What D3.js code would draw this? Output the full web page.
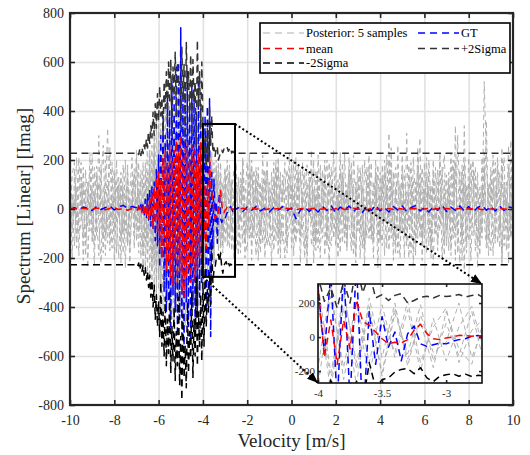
<!DOCTYPE html>
<html><head><meta charset="utf-8">
<script src="https://cdn.jsdelivr.net/npm/d3@7"></script>
<style>
body{margin:0;background:#fff}
svg{display:block}
svg text{font-family:'Liberation Serif','Tinos','Times New Roman','DejaVu Serif',serif !important}
</style>
</head><body>
<svg id="c" width="530" height="455"></svg>
<script>
// ---------------- DATA ----------------
const xTicks = [-10,-8,-6,-4,-2,0,2,4,6,8,10];
const yTicks = [-800,-600,-400,-200,0,200,400,600,800];
const xDomain = [-10,10];
const yDomain = [-800,800];
const insetXTicks = [-4,-3.5,-3];
const insetYTicks = [-200,0,200];
const insetXDomain = [-4,-2.72];
const insetYDomain = [-270,312];
const zoomBoxX = [-4,-2.55];
const zoomBoxY = [-277,347];
const legendLabels = ["Posterior: 5 samples","mean","-2Sigma","GT","+2Sigma"];
const xLabel = "Velocity [m/s]";
const yLabel = "Spectrum [Linear] [Imag]";

// velocity grid of the posterior samples (step 0.1)
const sampleX = d3.range(201).map(i => -10 + i*0.1);
const sample1 = [120,-85,40,-160,210,-30,95,-190,60,150,
 -110,20,175,-60,-220,90,30,-140,250,-45,
 70,-180,130,10,-95,200,-150,45,-20,165,
 -130,85,-60,190,-240,150,-90,260,-310,180,
 -280,350,-200,420,-380,300,-450,390,-260,480,
 -420,310,-350,440,-300,260,-390,330,-210,370,
 -290,240,-180,210,-150,190,-120,160,-200,110,
 -140,60,180,-90,25,-170,130,-50,200,-120,
 40,150,-210,90,-30,170,-100,220,-60,-150,
 110,-20,190,-130,60,-200,140,10,-90,230,
 -160,80,-40,180,-110,30,150,-230,70,-10,
 200,-140,90,-70,160,-190,20,120,-50,240,
 -100,50,-180,140,0,-130,210,-80,100,-220,
 60,170,-40,-150,120,-20,190,-110,80,-240,
 150,-60,30,220,-170,90,-10,-130,260,-90,
 40,-200,310,-70,130,-160,20,180,-120,70,
 -30,210,-150,100,-230,50,160,-80,10,-190,
 140,-40,230,-120,340,-180,60,-90,190,-20,
 110,-210,80,170,-140,30,-100,520,200,-60,
 -170,120,-30,180,-90,250,-150,40,-220,130,60];
const sample2 = [-60,140,190,-120,-30,80,-210,160,20,-90,
 230,-150,-40,110,60,-180,200,-70,-120,90,
 160,-30,-200,120,40,-90,180,-160,70,-40,
 210,-100,30,-170,140,-260,230,-180,320,-350,
 280,-420,360,-300,460,-340,250,-480,400,-320,
 450,-380,280,-460,350,-250,420,-300,290,-340,
 230,-260,280,-190,150,-210,170,-130,90,-180,
 150,-70,-160,120,40,190,-110,-30,140,-200,
 80,-120,170,20,-190,130,60,-140,-20,200,
 -80,150,-170,30,210,-60,-130,90,160,-40,
 100,-190,50,140,-220,70,-30,180,120,-150,
 -60,160,30,-200,110,50,-140,190,-90,20,
 170,-110,60,-30,230,-170,90,140,-60,-190,
 120,-10,-160,200,50,-120,30,-200,150,90,
 -140,180,-50,100,-20,160,-210,60,130,-100,
 220,-40,-150,80,190,-230,110,-60,20,170,
 -120,60,140,-200,90,10,-170,230,-40,120,
 -150,80,-60,170,-210,300,40,-130,100,-180,
 60,190,-110,-30,150,-190,90,20,360,-130,
 170,-60,-140,210,40,-200,110,-30,260,-120,-50];
const sample3 = [200,30,-150,90,-190,130,-20,80,-240,60,
 -40,170,-110,300,-80,40,-190,120,10,-160,
 140,-60,90,-220,180,20,-130,70,210,-100,
 50,-180,160,60,-140,310,-280,180,-220,390,
 -330,260,-440,300,-260,420,-360,300,-420,360,
 -300,420,-480,330,-250,380,-310,200,-400,260,
 -180,300,-250,140,-220,120,-90,210,-150,60,
 170,-150,40,110,-200,90,-60,150,30,-130,
 -170,60,200,-90,130,-50,-180,100,160,-30,
 50,-230,120,-10,180,-140,70,20,-180,140,
 60,-100,210,-60,-130,190,30,-170,90,160,
 -220,40,120,-80,-20,200,-150,60,170,-120,
 30,-200,150,80,-140,100,-40,-170,220,40,
 -90,140,10,-230,170,70,-130,110,-30,180,
 -60,-150,200,40,310,-120,150,-180,20,100,
 -90,160,-30,-200,60,120,-140,250,-60,-110,
 190,-20,80,-160,140,-100,40,200,-210,70,
 -40,150,-190,60,120,-60,-220,180,30,-140,
 210,-80,40,130,-240,90,-30,170,-120,60,
 140,-190,80,30,-160,200,-70,110,-130,280,-90];
const sample4 = [-170,60,-20,210,-100,-60,170,-140,110,-10,
 90,-230,140,-20,180,-120,70,330,-170,50,
 -90,200,-40,150,-180,60,110,-220,30,140,
 -70,190,-200,110,40,-180,240,-330,270,-240,
 370,-300,250,-400,330,-480,410,-350,320,-440,
 380,-270,460,-350,410,-330,260,-380,350,-250,
 310,-210,170,-280,230,-120,200,-170,130,-90,
 -30,200,-120,70,160,-60,-190,100,-140,50,
 190,-20,-140,160,60,-210,110,-40,130,-90,
 -150,70,20,200,-120,150,-60,-200,100,40,
 180,-40,-140,90,160,-90,-200,50,130,-60,
 80,-170,220,10,-120,140,60,-230,90,-10,
 -150,120,-60,190,-100,30,160,-20,-190,110,
 -30,-100,180,-170,60,220,-90,40,140,-130,
 10,130,-190,70,-60,250,-130,90,-180,30,
 160,-110,70,-40,-180,210,40,-120,150,-210,
 50,130,-60,-140,200,-80,110,-20,170,-130,
 30,-170,110,200,-90,10,160,-210,340,-60,
 -130,40,160,-70,90,-150,210,-40,-160,100,
 -20,220,-120,70,150,-230,60,-80,170,-40,200];
const sample5 = [80,-200,150,-40,60,190,-120,30,-70,230,
 -140,70,-30,-190,120,260,-110,40,-60,190,
 -210,110,20,-130,90,-240,150,-50,120,-160,
 240,-30,120,-250,190,-120,160,-250,210,-300,
 320,-250,410,-340,280,-390,470,-280,380,-360,
 300,-450,350,-280,470,-400,310,-270,240,-330,
 200,-320,260,-150,180,-230,140,-100,190,-140,
 80,-110,150,-170,60,130,-40,-180,210,10,
 -100,230,-60,-120,170,40,-150,100,-200,150,
 20,-110,-60,170,-190,100,40,190,-150,-70,
 -40,200,-120,-80,150,20,-160,110,-30,240,
 -130,60,-160,180,-40,90,200,-110,-150,60,
 100,-50,230,-140,60,-160,40,190,-120,20,
 180,-200,90,30,-120,160,-80,-140,200,-40,
 -120,60,150,-160,200,-30,80,170,-60,-200,
 110,30,-130,180,-70,60,-190,120,290,-150,
 80,-180,200,30,-50,170,-130,-60,130,220,
 -90,110,-150,-40,190,-110,70,150,-250,100,
 -40,130,200,-170,20,60,-120,230,-70,-190,
 90,40,190,-140,-50,110,210,-170,30,-100,160];
const samples = [sample1,sample2,sample3,sample4,sample5];

// velocity grid of GT / mean: coarse outside, fine (0.05) in the signal region
const gridLeft = d3.range(15).map(i => -10 + 0.2*i);
const gridCenter = d3.range(91).map(j => -7 + 0.05*j);
const gridRight = d3.range(63).map(k => -2.4 + 0.2*k);
const gridX = [...gridLeft, ...gridCenter, ...gridRight];

const gtLeft = [0,5,-3,8,2,-6,10,-2,6,12,-4,8,15,3,10];
const gtCenter = [5,-8,12,-5,18,-15,25,-30,40,-35,
 60,-45,80,-70,90,-80,110,-130,160,-150,
 220,-240,300,-200,380,-340,300,-420,450,-380,
 400,-480,520,-350,460,-420,580,-500,600,-450,
 740,-520,480,-560,520,-380,560,-480,420,-540,
 500,-400,460,-520,380,-440,520,-360,420,-300,
 300,-100,380,-400,420,-380,450,-520,150,-160,
 120,-60,30,-140,20,65,-40,-55,-45,-35,
 -40,-25,-15,-10,5,10,0,-10,5,-5,
 0];
const gtRight = [5,-10,8,-5,10,-8,3,-12,6,-4,
 10,-6,4,-40,-5,8,-10,5,-12,10,
 -6,12,-15,8,-5,12,-10,6,-14,10,
 -6,15,-8,5,-12,10,-4,12,-10,6,
 14,-8,5,-12,10,-5,15,-10,8,-6,
 12,-8,10,-12,6,14,-5,10,-8,12,
 -6,8,5];
const gt = [...gtLeft, ...gtCenter, ...gtRight];

const meanLeft = [0,2,-1,3,0,-2,4,1,-3,2,5,-2,3,-5,2];
const meanCenter = [0,-5,8,-10,5,-15,10,-25,20,-30,
 15,-40,50,-30,70,-80,90,-60,130,-100,
 150,-170,120,-200,210,-150,240,-250,180,-220,
 260,-280,200,-310,240,-200,280,-300,230,-260,
 300,-340,210,-360,250,-280,270,-240,200,-300,
 260,-220,240,-290,180,-250,230,-200,270,-150,
 290,-120,100,-160,100,-70,220,90,70,30,
 -10,-40,-30,-35,-15,40,75,20,-10,-15,
 -5,0,10,8,5,8,2,-3,0,2,
 0];
const meanRight = [0,3,-2,4,-1,2,-3,1,0,2,
 -2,3,0,-4,1,2,-1,3,-2,0,
 2,-3,1,4,-2,0,3,-1,2,-3,
 1,0,-2,3,1,-1,2,0,-3,1,
 2,-2,0,3,-1,1,-2,2,0,-1,
 3,-2,1,0,2,-3,1,0,-1,2,
 0,-2,1];
const mean = [...meanLeft, ...meanCenter, ...meanRight];

// +/- 2 sigma: flat outside, jagged in the signal region
const sigmaX = [-10, ...gridCenter, 10];
const sigmaUp = [228,
 228,232,222,245,218,250,226,262,240,285,
 250,310,268,340,290,395,300,430,330,470,
 360,500,380,455,300,520,410,560,350,600,
 430,610,300,580,460,640,380,600,500,520,
 340,660,450,590,270,680,480,560,390,630,
 300,610,440,520,250,690,420,560,330,600,
 360,210,290,170,330,200,420,260,380,230,
 250,215,245,255,200,215,235,240,230,245,
 238,242,250,236,244,250,228,236,230,228,
 228,
 228];
const sigmaLo = [-228,
 -228,-235,-220,-248,-225,-255,-230,-270,-240,-290,
 -255,-320,-270,-360,-290,-400,-310,-450,-350,-480,
 -380,-520,-300,-560,-420,-600,-360,-640,-450,-590,
 -330,-670,-480,-620,-400,-700,-500,-640,-360,-720,
 -520,-780,-430,-690,-560,-730,-380,-670,-500,-610,
 -340,-690,-450,-600,-280,-640,-420,-560,-350,-620,
 -300,-560,-240,-480,-330,-420,-260,-390,-150,-300,
 -250,-240,-205,-190,-185,-215,-180,-240,-262,-230,
 -222,-215,-230,-218,-232,-225,-228,-230,-226,-228,
 -228,
 -228];

// ---------------- DRAW ----------------
const FONT = "'Liberation Serif','Tinos','Times New Roman','DejaVu Serif',serif";
const svg = d3.select('#c');
const L = 70, R = 513, T = 13, B = 405;
const x = d3.scaleLinear().domain(xDomain).range([L, R]);
const y = d3.scaleLinear().domain(yDomain).range([B, T]);

const INK = '#262626';
const styles = {
  sample: {color:'#b0b0b0', w:1, dash:'5,3.5'},
  gt:     {color:'#0000ff', w:1.5, dash:'7,4.5'},
  mean:   {color:'#ff0000', w:1.5, dash:'7,4.5'},
  up:     {color:'#333333', w:1.5, dash:'7,4.5'},
  lo:     {color:'#000000', w:1.5, dash:'7,4.5'}
};

const defs = svg.append('defs');
defs.append('clipPath').attr('id','clipMain').append('rect')
  .attr('x',L).attr('y',T).attr('width',R-L).attr('height',B-T);
defs.append('marker').attr('id','arrow').attr('viewBox','0 0 10 8')
  .attr('refX',10).attr('refY',4).attr('markerWidth',11).attr('markerHeight',9)
  .attr('markerUnits','userSpaceOnUse').attr('orient','auto')
  .append('path').attr('d','M0,0 L10,4 L0,8 Z').attr('fill','#000');

// grid
const grid = svg.append('g');
grid.append('g').attr('transform',`translate(0,${B})`)
  .call(d3.axisBottom(x).tickValues(xTicks.slice(1,-1)).tickSize(-(B-T)).tickFormat(''))
  .call(g => g.select('.domain').remove())
  .call(g => g.selectAll('line').attr('stroke','#e1e1e1').attr('stroke-width',1.6));
grid.append('g').attr('transform',`translate(${L},0)`)
  .call(d3.axisLeft(y).tickValues(yTicks.slice(1,-1)).tickSize(-(R-L)).tickFormat(''))
  .call(g => g.select('.domain').remove())
  .call(g => g.selectAll('line').attr('stroke','#e1e1e1').attr('stroke-width',1.6));

function drawAll(g, xs, ys) {
  const line = d3.line().x(d => xs(d[0])).y(d => ys(d[1]));
  const add = (X, Y, st) => {
    const pts = X.map((v,i) => [v, Y[i]]).filter(p => p[1] !== undefined);
    g.append('path').attr('d', line(pts)).attr('fill','none')
      .attr('stroke', st.color).attr('stroke-width', st.w)
      .attr('stroke-dasharray', st.dash).attr('stroke-linejoin','round');
  };
  samples.forEach(s => add(sampleX, s, styles.sample));
  add(gridX, gt, styles.gt);
  add(gridX, mean, styles.mean);
  add(sigmaX, sigmaLo, styles.lo);
  add(sigmaX, sigmaUp, styles.up);
}

const main = svg.append('g').attr('clip-path','url(#clipMain)');
drawAll(main, x, y);

// zoom rectangle
svg.append('rect')
  .attr('x', x(zoomBoxX[0])).attr('y', y(zoomBoxY[1]))
  .attr('width', x(zoomBoxX[1]) - x(zoomBoxX[0]))
  .attr('height', y(zoomBoxY[0]) - y(zoomBoxY[1]))
  .attr('fill','none').attr('stroke','#000').attr('stroke-width',2);

// axes
function styleAxis(g, fs) {
  g.attr('font-family', FONT);
  g.select('.domain').remove();
  g.selectAll('.tick line').attr('stroke', INK).attr('stroke-width', 1.6);
  g.selectAll('.tick text').attr('fill', INK).attr('font-size', fs)
    .style('font-family', FONT);
}
const fmt = d => String(d);
svg.append('g').attr('transform',`translate(0,${B})`)
  .call(d3.axisBottom(x).tickValues(xTicks).tickSize(-5).tickPadding(10).tickFormat(fmt))
  .call(g => styleAxis(g, 14));
svg.append('g').attr('transform',`translate(0,${T})`)
  .call(d3.axisTop(x).tickValues(xTicks).tickSize(-5).tickFormat(''))
  .call(g => styleAxis(g, 14));
svg.append('g').attr('transform',`translate(${L},0)`)
  .call(d3.axisLeft(y).tickValues(yTicks).tickSize(-5).tickPadding(6).tickFormat(fmt))
  .call(g => styleAxis(g, 14));
svg.append('g').attr('transform',`translate(${R},0)`)
  .call(d3.axisRight(y).tickValues(yTicks).tickSize(-5).tickFormat(''))
  .call(g => styleAxis(g, 14));
svg.append('rect').attr('x',L).attr('y',T).attr('width',R-L).attr('height',B-T)
  .attr('fill','none').attr('stroke',INK).attr('stroke-width',2.2);

// labels
svg.append('text').attr('x',(L+R)/2).attr('y',447).attr('text-anchor','middle')
  .attr('font-size',19).attr('fill',INK).style('font-family',FONT).text(xLabel);
svg.append('text').attr('transform',`translate(30,${(T+B)/2 - 3}) rotate(-90)`)
  .attr('text-anchor','middle').attr('font-size',19).attr('fill',INK).style('font-family',FONT).text(yLabel);

// legend
const lg = svg.append('g');
lg.append('rect').attr('x',260).attr('y',23).attr('width',250).attr('height',50)
  .attr('fill','#fff').attr('stroke','#000').attr('stroke-width',1.6);
const legendItems = [
  {label: legendLabels[0], st: styles.sample, col: 0, row: 0},
  {label: legendLabels[1], st: styles.mean,   col: 0, row: 1},
  {label: legendLabels[2], st: styles.lo,     col: 0, row: 2},
  {label: legendLabels[3], st: styles.gt,     col: 1, row: 0},
  {label: legendLabels[4], st: styles.up,     col: 1, row: 1}
];
const colX = [263, 418];
const rowY = [33, 48.5, 63];
legendItems.forEach(it => {
  const x0 = colX[it.col], yy = rowY[it.row];
  lg.append('line').attr('x1',x0).attr('x2',x0+41).attr('y1',yy).attr('y2',yy)
    .attr('stroke', it.st.color).attr('stroke-width', it.st.w === 1 ? 1.2 : 1.5)
    .attr('stroke-dasharray', '7,5');
  lg.append('text').attr('x', x0+43).attr('y', yy).attr('dy','0.35em')
    .attr('font-size',12.5).attr('fill','#000').style('font-family',FONT).text(it.label);
});

// inset
const IL = 318, IR = 482, IT = 284, IB = 383;
const ix = d3.scaleLinear().domain(insetXDomain).range([IL, IR]);
const iy = d3.scaleLinear().domain(insetYDomain).range([IB, IT]);
defs.append('clipPath').attr('id','clipInset').append('rect')
  .attr('x',IL).attr('y',IT).attr('width',IR-IL).attr('height',IB-IT);
const inset = svg.append('g').attr('clip-path','url(#clipInset)');
drawAll(inset, ix, iy);
svg.append('g').attr('transform',`translate(0,${IB})`)
  .call(d3.axisBottom(ix).tickValues(insetXTicks).tickSize(-3).tickPadding(6).tickFormat(fmt))
  .call(g => styleAxis(g, 11));
svg.append('g').attr('transform',`translate(0,${IT})`)
  .call(d3.axisTop(ix).tickValues(insetXTicks).tickSize(-3).tickFormat(''))
  .call(g => styleAxis(g, 11));
svg.append('g').attr('transform',`translate(${IL},0)`)
  .call(d3.axisLeft(iy).tickValues(insetYTicks).tickSize(-3).tickPadding(3).tickFormat(fmt))
  .call(g => styleAxis(g, 11));
svg.append('g').attr('transform',`translate(${IR},0)`)
  .call(d3.axisRight(iy).tickValues(insetYTicks).tickSize(-3).tickFormat(''))
  .call(g => styleAxis(g, 11));
svg.append('rect').attr('x',IL).attr('y',IT).attr('width',IR-IL).attr('height',IB-IT)
  .attr('fill','none').attr('stroke','#111').attr('stroke-width',1.6);

// dotted connector arrows
const arrows = [
  [[x(zoomBoxX[1]), y(zoomBoxY[1])], [ix(insetXDomain[1]), iy(insetYDomain[1])]],
  [[x(zoomBoxX[0]), y(zoomBoxY[0])], [ix(insetXDomain[0]), iy(insetYDomain[0])]]
];
arrows.forEach(a => {
  svg.append('line').attr('x1',a[0][0]).attr('y1',a[0][1]).attr('x2',a[1][0]).attr('y2',a[1][1])
    .attr('stroke','#000').attr('stroke-width',2).attr('stroke-dasharray','2,2.4')
    .attr('marker-end','url(#arrow)');
});
</script>
</body></html>
